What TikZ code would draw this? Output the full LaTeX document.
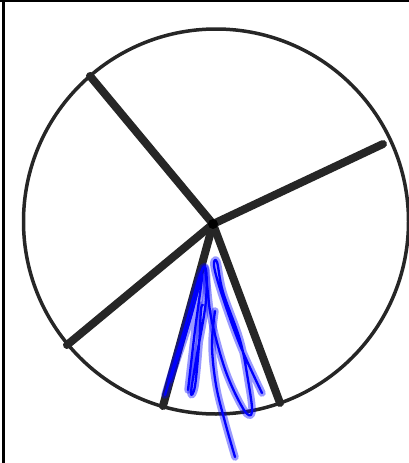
\documentclass[tikz,border=0pt]{standalone}
\begin{document}
\begin{tikzpicture}[x=1pt,y=-1pt,
  spoke/.style={line width=8pt,draw=black!85,line cap=round},
  rim/.style={line width=3.5pt,draw=black!85},
  halo/.style={line width=7.5pt,draw=blue,opacity=0.4,line cap=round,line join=round},
  ink/.style={line width=2.3pt,draw=blue,line cap=round,line join=round}]
\useasboundingbox (0,0) rectangle (409,463);
\coordinate (hub) at (213,224);
\coordinate (s1) at (90,76);
\coordinate (s2) at (383,144);
\coordinate (s3) at (67,345);
\coordinate (s4) at (163,406);
\coordinate (s5) at (280,403);
\node[circle,rim,minimum size=385pt,inner sep=0pt] (wheel) at (216,221.5) {};
\foreach \s in {s1,s2,s3,s4,s5} \draw[spoke] (hub) -- (\s);
\fill[black] (hub) circle (5pt);
\draw[line width=3pt] (3,0) -- (3,463);
\draw[line width=2.5pt] (0,1) -- (409,1);
\foreach \st in {halo,ink}{
\draw[\st] plot[smooth,tension=0.6] coordinates {(165,395) (180,345) (203,268) (206,300) (196,360) (191,393) (195,386) (199,345) (201,310) (203,305)};
\draw[\st] plot[smooth,tension=0.6] coordinates {(170,380) (190,320) (202,275) (195,330) (188,390)};
\draw[\st] plot[smooth,tension=0.6] coordinates {(262,393) (240,345) (222,295) (214,266) (217,262) (223,292) (240,340) (248,380) (252,412) (244,410) (226,372) (212,322) (207,285) (205,268)};
\draw[\st] plot[smooth,tension=0.6] coordinates {(215,311) (212,345) (216,385) (225,422) (235,457)};
}
\end{tikzpicture}
\end{document}
